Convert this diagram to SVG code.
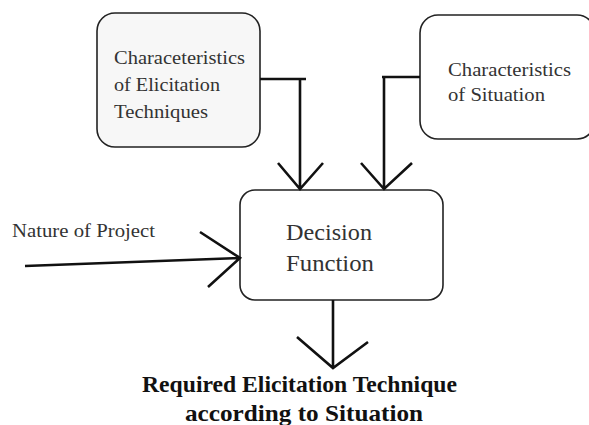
<svg xmlns="http://www.w3.org/2000/svg" width="589" height="425" viewBox="0 0 589 425">
<style>
.box{stroke:#222;stroke-width:1.6}
.t{font-family:"Liberation Serif",serif;fill:#333}
.c{stroke:#111;fill:none;stroke-width:2.6}
.b{font-family:"Liberation Serif",serif;font-weight:bold;fill:#111;font-size:23px}
</style>
<rect width="589" height="425" fill="#fff"/>
<g id="node-elicitation">
<rect class="box" x="97" y="13" width="163" height="134" rx="18" fill="#f7f7f7"/>
<text class="t" font-size="19" x="114" y="64" textLength="131" lengthAdjust="spacingAndGlyphs">Characeteristics</text>
<text class="t" font-size="19" x="114" y="91" textLength="106" lengthAdjust="spacingAndGlyphs">of Elicitation</text>
<text class="t" font-size="19" x="114" y="118" textLength="94" lengthAdjust="spacingAndGlyphs">Techniques</text>
</g>
<g id="node-situation">
<rect class="box" x="420" y="15" width="175" height="124" rx="18" fill="#fff"/>
<text class="t" font-size="19" x="448" y="76" textLength="123" lengthAdjust="spacingAndGlyphs">Characteristics</text>
<text class="t" font-size="19" x="448" y="101" textLength="97" lengthAdjust="spacingAndGlyphs">of Situation</text>
</g>
<g id="node-decision">
<rect class="box" x="240" y="190" width="203" height="110" rx="15" fill="#fff"/>
<text class="t" font-size="24" x="286" y="240" textLength="86" lengthAdjust="spacingAndGlyphs">Decision</text>
<text class="t" font-size="24" x="286" y="271" textLength="88" lengthAdjust="spacingAndGlyphs">Function</text>
</g>
<g id="node-nature">
<text class="t" font-size="19" x="12" y="237" textLength="143" lengthAdjust="spacingAndGlyphs">Nature of Project</text>
</g>
<g id="node-result">
<text class="b" x="142" y="392" textLength="315" lengthAdjust="spacingAndGlyphs">Required Elicitation Technique</text>
<text class="b" x="185" y="421" textLength="238" lengthAdjust="spacingAndGlyphs">according to Situation</text>
</g>
<g id="connectors">
<path class="c" d="M260 79H306M300 79V189M278 163L300 189L323 163"/>
<path class="c" d="M420 77H382M384 77V189M361 163L384 189L412 163"/>
<path class="c" d="M25 266L240 258M200 232L240 258L208 287"/>
<path class="c" d="M333 300V368M297 337L333 368L368 342"/>
</g>
</svg>
